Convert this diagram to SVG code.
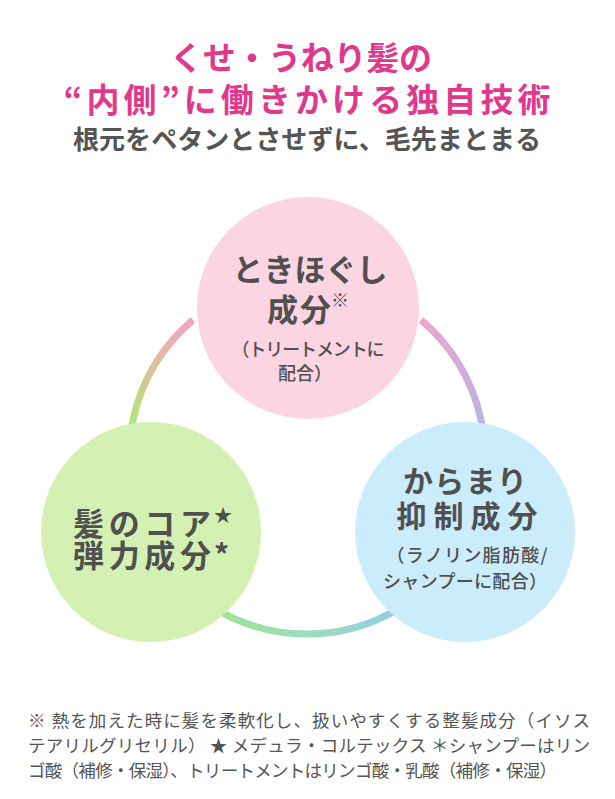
<svg xmlns="http://www.w3.org/2000/svg" width="615" height="799" viewBox="0 0 615 799">
<style>
.ttl{font-family:"Noto Sans CJK JP","Noto Sans",sans-serif;font-weight:700;fill:#e0398b;text-anchor:middle}
.sub{font-family:"Noto Sans CJK JP","Noto Sans",sans-serif;font-weight:700;fill:#555555;text-anchor:middle}
.nd{font-family:"Noto Sans CJK JP","Noto Sans",sans-serif;font-weight:700;fill:#505050}
.ns{font-family:"Noto Sans CJK JP","Noto Sans",sans-serif;font-weight:500;fill:#505050}
.mid{text-anchor:middle}
.fn{font-family:"Noto Sans CJK JP","Noto Sans",sans-serif;font-weight:400;fill:#555555;font-size:17.5px}
.ring{fill:none;stroke-width:7}
</style>
<defs>
<linearGradient id="gL" gradientUnits="userSpaceOnUse" x1="193" y1="320" x2="147" y2="534">
<stop offset="0" stop-color="#f2a4c6"/><stop offset="0.22" stop-color="#e0bc9c"/><stop offset="0.5" stop-color="#b2e47e"/><stop offset="1" stop-color="#a2e674"/>
</linearGradient>
<linearGradient id="gB" gradientUnits="userSpaceOnUse" x1="147" y1="534" x2="467" y2="534">
<stop offset="0" stop-color="#a0e870"/><stop offset="0.5" stop-color="#9edcc0"/><stop offset="1" stop-color="#86c4f4"/>
</linearGradient>
<linearGradient id="gR" gradientUnits="userSpaceOnUse" x1="421" y1="320" x2="467" y2="534">
<stop offset="0" stop-color="#eca6cc"/><stop offset="0.4" stop-color="#c4b0e0"/><stop offset="0.75" stop-color="#a0c2f0"/><stop offset="1" stop-color="#8cc6f4"/>
</linearGradient>
</defs>
<rect width="615" height="799" fill="#ffffff"/>

<g id="title">
<text class="ttl" x="301" y="70" font-size="33" textLength="262" lengthAdjust="spacing">くせ・うねり髪の</text>
<text class="ttl" x="307" y="112" font-size="33" textLength="487" lengthAdjust="spacing">“内側”に働きかける独自技術</text>
<text class="sub" x="307" y="149" font-size="26" textLength="468" lengthAdjust="spacing">根元をペタンとさせずに、毛先まとまる</text>
</g>

<g id="connectors">
<path class="ring" stroke="url(#gL)" d="M193,320 A178,178 0 0 0 147,534"/>
<path class="ring" stroke="url(#gB)" d="M147,534 A178,178 0 0 0 467,534"/>
<path class="ring" stroke="url(#gR)" d="M467,534 A178,178 0 0 0 421,320"/>
</g>

<g id="node-pink">
<circle cx="308" cy="308" r="111" fill="#fcd5e3"/>
<text class="nd mid" x="310" y="281" font-size="31" textLength="155" lengthAdjust="spacing">ときほぐし</text>
<text class="nd" x="267" y="321" font-size="31" textLength="64" lengthAdjust="spacing">成分</text>
<text class="ns" x="331" y="307" font-size="18">※</text>
<text class="ns mid" x="308" y="356" font-size="18" textLength="153" lengthAdjust="spacing">（トリートメントに</text>
<text class="ns mid" x="305" y="380" font-size="18">配合）</text>
</g>

<g id="node-green">
<circle cx="151" cy="532" r="110" fill="#d4f0b3"/>
<text class="nd" x="73" y="535" font-size="31" textLength="138" lengthAdjust="spacing">髪のコア</text>
<text class="nd" x="214" y="522" font-size="18">★</text>
<text class="nd" x="73" y="567" font-size="31" textLength="138" lengthAdjust="spacing">弾力成分</text>
<text class="nd" x="214" y="566" font-size="30">*</text>
</g>

<g id="node-blue">
<circle cx="465" cy="532" r="110" fill="#cbedfb"/>
<text class="nd mid" x="465" y="492" font-size="30" textLength="124" lengthAdjust="spacing">からまり</text>
<text class="nd mid" x="467" y="527" font-size="30" textLength="141" lengthAdjust="spacing">抑制成分</text>
<text class="ns mid" x="467" y="562" font-size="18" textLength="161" lengthAdjust="spacing">（ラノリン脂肪酸/</text>
<text class="ns mid" x="465" y="588" font-size="18" textLength="164" lengthAdjust="spacing">シャンプーに配合）</text>
</g>

<g id="footnote">
<text class="fn" x="28" y="727" textLength="562" lengthAdjust="spacing">※ 熱を加えた時に髪を柔軟化し、扱いやすくする整髪成分（イソス</text>
<text class="fn" x="28" y="752" textLength="562" lengthAdjust="spacing">テアリルグリセリル） ★ メデュラ・コルテックス ＊シャンプーはリン</text>
<text class="fn" x="28" y="777" textLength="529" lengthAdjust="spacing">ゴ酸（補修・保湿）、トリートメントはリンゴ酸・乳酸（補修・保湿）</text>
</g>
</svg>
